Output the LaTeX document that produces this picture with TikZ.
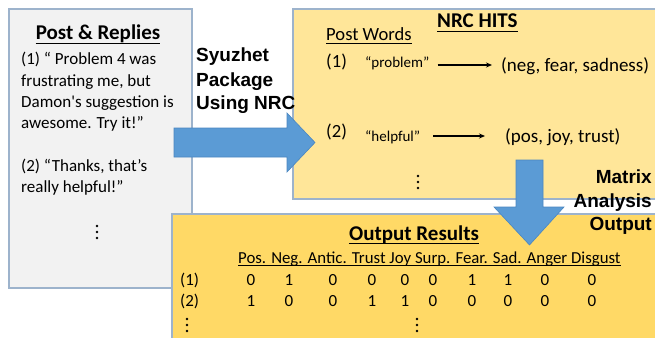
\documentclass[tikz,border=0pt]{standalone}
\usepackage{fontspec}
\setmainfont{Carlito}
\newfontfamily\arialfam{Liberation Sans}
\usetikzlibrary{arrows.meta}
\definecolor{boxgray}{HTML}{F2F2F2}
\definecolor{boxedge}{HTML}{9DB3CC}
\definecolor{nrcfill}{HTML}{FFE699}
\definecolor{outfill}{HTML}{FFD966}
\definecolor{arrowblue}{HTML}{5B9BD5}
\definecolor{arrowedge}{HTML}{4A86C0}
\newcommand{\dotcol}[2]{\foreach \dd in {-6,0,6} {\fill (#1,#2+\dd) circle (1.3pt);}}
\begin{document}
\begin{tikzpicture}[x=1pt,y=-1pt,
  panel/.style={draw=boxedge, line width=1.3pt, inner sep=0pt, outer sep=0pt, anchor=north west},
  txt/.style={inner sep=0pt, anchor=base west, font=\fontsize{17}{20}\selectfont},
  ctxt/.style={inner sep=0pt, anchor=base, font=\fontsize{17}{20}\selectfont},
  ttl/.style={inner sep=0pt, anchor=base, font=\fontsize{21}{24}\selectfont\bfseries},
  side/.style={inner sep=0pt, font=\fontsize{19}{22}\selectfont\arialfam\bfseries},
  mid/.style={inner sep=0pt, anchor=base west, font=\fontsize{18.6}{22}\selectfont},
  word/.style={inner sep=0pt, anchor=base west, font=\fontsize{15}{18}\selectfont},
  bigarrow/.style={fill=arrowblue, draw=arrowedge, line width=0.6pt},
  hitarrow/.style={line width=1.4pt, -{Stealth[length=6pt,width=5pt]}},
  ul/.style={line width=1.1pt}
]
\useasboundingbox (0,0) rectangle (655,337);

% panels
\node[panel, fill=boxgray, minimum width=183pt, minimum height=279pt] (postbox) at (9,9) {};
\node[panel, fill=outfill, minimum width=500pt, minimum height=140pt] (outbox) at (172,214) {};
\node[panel, fill=nrcfill, minimum width=380pt, minimum height=190pt] (nrcbox) at (293,9) {};

% block arrows
\path[bigarrow] (174,128) -- (287,128) -- (287,113) -- (315,142.5) -- (287,172) -- (287,157) -- (174,157) -- cycle;
\path[bigarrow] (516,160) -- (543,160) -- (543,207) -- (564,207) -- (529.5,245) -- (494,207) -- (516,207) -- cycle;

% left panel
\node[ttl] (posttitle) at (98,40) {Post \& Replies};
\draw[ul] ([yshift=-3.5pt]posttitle.base west) -- ([yshift=-3.5pt]posttitle.base east);
\node[txt] (l1) at (21,64) {(1) “ Problem 4 was};
\node[txt] (l2) at (21,86) {frustrating me, but};
\node[txt] (l3) at (21,107) {Damon\textquotesingle s suggestion is};
\node[txt] (l4) at (21,128) {awesome. Try it!”};
\node[txt] (l5) at (21,171) {(2) “Thanks, that’s};
\node[txt] (l6) at (21,192) {really helpful!”};
\dotcol{97}{232}

% method labels
\node[side, anchor=base west] (s1) at (196,62) {Syuzhet};
\node[side, anchor=base west] (s2) at (196,86) {Package};
\node[side, anchor=base west] (s3) at (196,109) {Using NRC};
\node[side, anchor=base east] (m1) at (652,183) {Matrix};
\node[side, anchor=base east] (m2) at (652,207) {Analysis};
\node[side, anchor=base east] (m3) at (652,230) {Output};

% NRC panel
\node[ttl, anchor=base west] (nrctitle) at (437,28) {NRC HITS};
\draw[ul] ([yshift=-3.5pt]nrctitle.base west) -- ([yshift=-3.5pt]nrctitle.base east);
\node[mid] (pw) at (326,41) {Post Words};
\draw[ul, line width=0.9pt] ([yshift=-2.5pt]pw.base west) -- ([yshift=-2.5pt]pw.base east);
\node[mid] (n1) at (326,67) {(1)};
\node[word] (w1) at (365,67) {“problem”};
\node[mid, font=\fontsize{19}{22}\selectfont] (h1) at (501,71) {(neg, fear, sadness)};
\node[mid] (n2) at (326,137) {(2)};
\node[word] (w2) at (365,141) {“helpful”};
\node[mid, font=\fontsize{19}{22}\selectfont] (h2) at (505,142) {(pos, joy, trust)};
\draw[hitarrow] (w1.east |- 0,65) ++(8,0) coordinate (a1s) -- (492,65) coordinate (a1e);
\draw[hitarrow] (w2.east |- 0,136) ++(13,0) coordinate (a2s) -- (485,136) coordinate (a2e);
\dotcol{418}{182}

% output panel
\node[ttl] (outtitle) at (414,240) {Output Results};
\draw[ul] ([yshift=-3.5pt]outtitle.base west) -- ([yshift=-3.5pt]outtitle.base east);
\node[txt, font=\fontsize{16.8}{20}\selectfont] (hdr) at (238,263) {Pos. Neg. Antic. Trust Joy Surp. Fear. Sad. Anger Disgust};
\draw[line width=0.9pt] ([yshift=-2.5pt]hdr.base west) -- ([yshift=-2.5pt]hdr.base east);
\node[txt] (r1) at (180,285) {(1)};
\node[txt] (r2) at (180,306) {(2)};
\foreach \x/\a/\b [count=\i] in {251/0/1, 289/1/0, 333/0/0, 372/0/1, 405/0/1, 433/0/0, 472/1/0, 508/1/0, 545/0/0, 592/0/0} {
  \node[ctxt] (v1-\i) at (\x,285) {\a};
  \node[ctxt] (v2-\i) at (\x,306) {\b};
}
\dotcol{187}{325}
\dotcol{417}{325}
\end{tikzpicture}
\end{document}
